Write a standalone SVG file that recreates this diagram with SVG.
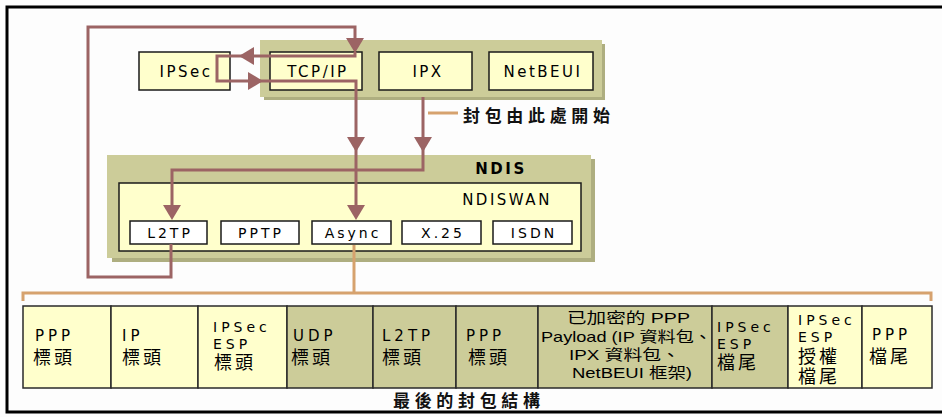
<svg xmlns="http://www.w3.org/2000/svg" xmlns:xlink="http://www.w3.org/1999/xlink" width="942" height="417" viewBox="0 0 942 417">
  <defs>
    <style>
      .panel { fill: #cccc99; }
      .shadow { fill: #aeae80; }
      .box { fill: #ffffcc; stroke: #1a1a1a; stroke-width: 1.5; }
      .wbox { fill: #ffffff; stroke: #1a1a1a; stroke-width: 1.5; }
      .cell { stroke: #2a2a2a; stroke-width: 1.5; }
      .lt { fill: #ffffcc; }
      .dk { fill: #cccc99; }
      .lat { font-family: "DejaVu Sans", Verdana, sans-serif; font-size: 15px; letter-spacing: 2.5px; fill: #000; }
      .cl { font-family: "DejaVu Sans", Verdana, sans-serif; font-size: 15px; letter-spacing: 4px; fill: #000; }
      .st { font-family: "DejaVu Sans", Verdana, sans-serif; font-size: 14px; letter-spacing: 4px; fill: #000; }
      .sm { font-family: "DejaVu Sans", Verdana, sans-serif; font-size: 14px; letter-spacing: 3px; fill: #000; }
      .cjk { font-family: "Liberation Sans", "Noto Sans CJK TC", sans-serif; font-size: 18px; letter-spacing: 3px; fill: #000; }
      .pay { font-family: "Liberation Sans", "Noto Sans CJK TC", sans-serif; font-size: 15px; fill: #000; }
      .bold { font-family: "Noto Sans CJK TC", sans-serif; font-size: 17px; font-weight: bold; fill: #111; }
      .flow { fill: none; stroke: #9c6464; stroke-width: 3; }
      .orange { fill: none; stroke: #d6a26e; stroke-width: 3; }
      .ah { fill: #9c6464; }
    </style>
    <!-- arrowhead pointing down, tip at origin -->
    <path id="ah" class="ah" d="M0,0 L-9,-15 L9,-15 Z"/>
  </defs>

  <rect width="942" height="417" fill="#fdfdfd"/>
  <!-- outer frame -->
  <path d="M942,7 H7 V412 H942" fill="none" stroke="#000" stroke-width="3"/>

  <!-- protocol panel -->
  <g id="protocols">
    <rect class="shadow" x="264" y="44" width="341" height="56"/>
    <rect class="panel" x="260" y="40" width="342" height="57"/>
  </g>
  <g id="tcpip">
    <rect class="box" x="270" y="52" width="92" height="38"/>
    <text class="lat" x="318" y="77" text-anchor="middle">TCP/IP</text>
  </g>
  <g id="ipx">
    <rect class="box" x="379" y="52" width="93" height="38"/>
    <text class="lat" x="428" y="77" text-anchor="middle">IPX</text>
  </g>
  <g id="netbeui">
    <rect class="box" x="489" y="52" width="104" height="38"/>
    <text class="lat" x="543" y="77" text-anchor="middle">NetBEUI</text>
  </g>
  <g id="ipsec">
    <rect class="box" x="139" y="52" width="91" height="38"/>
    <text class="lat" x="186" y="77" text-anchor="middle">IPSec</text>
  </g>

  <!-- NDIS panel -->
  <g id="ndis">
    <rect class="shadow" x="112" y="159" width="483" height="103"/>
    <rect class="panel" x="107" y="155" width="484" height="103"/>
    <text class="lat" x="501" y="174" text-anchor="middle" font-weight="bold" letter-spacing="4">NDIS</text>
  </g>
  <g id="ndiswan">
    <rect class="box" x="119" y="183" width="462" height="68"/>
    <text class="lat" x="507" y="205" text-anchor="middle" letter-spacing="3.5">NDISWAN</text>
  </g>
  <g id="l2tp">
    <rect class="wbox" x="130" y="221" width="77" height="23"/>
    <text class="sm" x="170" y="238" text-anchor="middle">L2TP</text>
  </g>
  <g id="pptp">
    <rect class="wbox" x="221" y="221" width="78" height="23"/>
    <text class="sm" x="261" y="238" text-anchor="middle">PPTP</text>
  </g>
  <g id="async">
    <rect class="wbox" x="312" y="221" width="79" height="23"/>
    <text class="sm" x="353" y="238" text-anchor="middle">Async</text>
  </g>
  <g id="x25">
    <rect class="wbox" x="402" y="221" width="79" height="23"/>
    <text class="sm" x="443" y="238" text-anchor="middle">X.25</text>
  </g>
  <g id="isdn">
    <rect class="wbox" x="493" y="221" width="79" height="23"/>
    <text class="sm" x="534" y="238" text-anchor="middle">ISDN</text>
  </g>

  <!-- connectors -->
  <g id="connectors">
    <path class="flow" d="M171,244 V277 H88 V27 H355 V42"/>
    <path class="flow" d="M355,52 V56 H217 V81 H356 V208"/>
    <path class="flow" d="M423,97 V170 H172 V208"/>
    <use xlink:href="#ah" transform="translate(355,53)"/>
    <use xlink:href="#ah" transform="translate(239,56) rotate(90)"/>
    <use xlink:href="#ah" transform="translate(263,81) rotate(-90)"/>
    <use xlink:href="#ah" transform="translate(356,152)"/>
    <use xlink:href="#ah" transform="translate(423,152)"/>
    <use xlink:href="#ah" transform="translate(172,220)"/>
    <use xlink:href="#ah" transform="translate(356,220)"/>
    <path class="orange" d="M354,245 V293"/>
    <path class="orange" d="M23,301 V293 H931 V301"/>
    <path class="orange" d="M428,113 H458"/>
  </g>
  <text id="start-label" class="bold" x="463" y="122" font-size="18" textLength="147" lengthAdjust="spacing">封包由此處開始</text>

  <!-- final packet layout -->
  <g id="packet">
    <g id="c-ppp-hdr">
      <rect class="cell lt" x="23" y="306" width="88" height="82"/>
      <text class="cl" x="35" y="341">PPP</text>
      <text class="cjk" x="33" y="364">標頭</text>
    </g>
    <g id="c-ip-hdr">
      <rect class="cell lt" x="111" y="306" width="87" height="82"/>
      <text class="cl" x="122" y="341">IP</text>
      <text class="cjk" x="122" y="364">標頭</text>
    </g>
    <g id="c-esp-hdr">
      <rect class="cell lt" x="198" y="306" width="89" height="82"/>
      <text class="st" x="213" y="332" letter-spacing="3.4">IPSec</text>
      <text class="st" x="213" y="349">ESP</text>
      <text class="cjk" x="214" y="369">標頭</text>
    </g>
    <g id="c-udp-hdr">
      <rect class="cell dk" x="287" y="306" width="86" height="82"/>
      <text class="cl" x="293" y="341">UDP</text>
      <text class="cjk" x="291" y="364">標頭</text>
    </g>
    <g id="c-l2tp-hdr">
      <rect class="cell dk" x="373" y="306" width="83" height="82"/>
      <text class="cl" x="382" y="341" letter-spacing="3">L2TP</text>
      <text class="cjk" x="382" y="364">標頭</text>
    </g>
    <g id="c-ppp-hdr2">
      <rect class="cell dk" x="456" y="306" width="82" height="82"/>
      <text class="cl" x="466" y="341">PPP</text>
      <text class="cjk" x="468" y="364">標頭</text>
    </g>
    <g id="c-payload">
      <rect class="cell dk" x="538" y="306" width="174" height="82"/>
      <text class="pay" x="567" y="323" textLength="123" lengthAdjust="spacingAndGlyphs">已加密的 PPP</text>
      <text class="pay" x="541" y="342" textLength="171" lengthAdjust="spacingAndGlyphs">Payload (IP 資料包、</text>
      <text class="pay" x="569" y="360" textLength="111" lengthAdjust="spacingAndGlyphs">IPX 資料包、</text>
      <text class="pay" x="572" y="378" textLength="120" lengthAdjust="spacingAndGlyphs">NetBEUI 框架)</text>
    </g>
    <g id="c-esp-trl">
      <rect class="cell dk" x="712" y="306" width="76" height="82"/>
      <text class="st" x="717" y="332" letter-spacing="3.4">IPSec</text>
      <text class="st" x="717" y="349">ESP</text>
      <text class="cjk" x="717" y="369">檔尾</text>
    </g>
    <g id="c-esp-auth">
      <rect class="cell lt" x="788" y="306" width="74" height="82"/>
      <text class="st" x="798" y="325" letter-spacing="3.4">IPSec</text>
      <text class="st" x="798" y="342">ESP</text>
      <text class="cjk" x="798" y="363">授權</text>
      <text class="cjk" x="798" y="383">檔尾</text>
    </g>
    <g id="c-ppp-trl">
      <rect class="cell lt" x="862" y="306" width="70" height="82"/>
      <text class="cl" x="872" y="340">PPP</text>
      <text class="cjk" x="869" y="363">檔尾</text>
    </g>
  </g>
  <text id="caption" class="bold" x="393" y="407" font-size="16" textLength="147" lengthAdjust="spacing">最後的封包結構</text>
</svg>
